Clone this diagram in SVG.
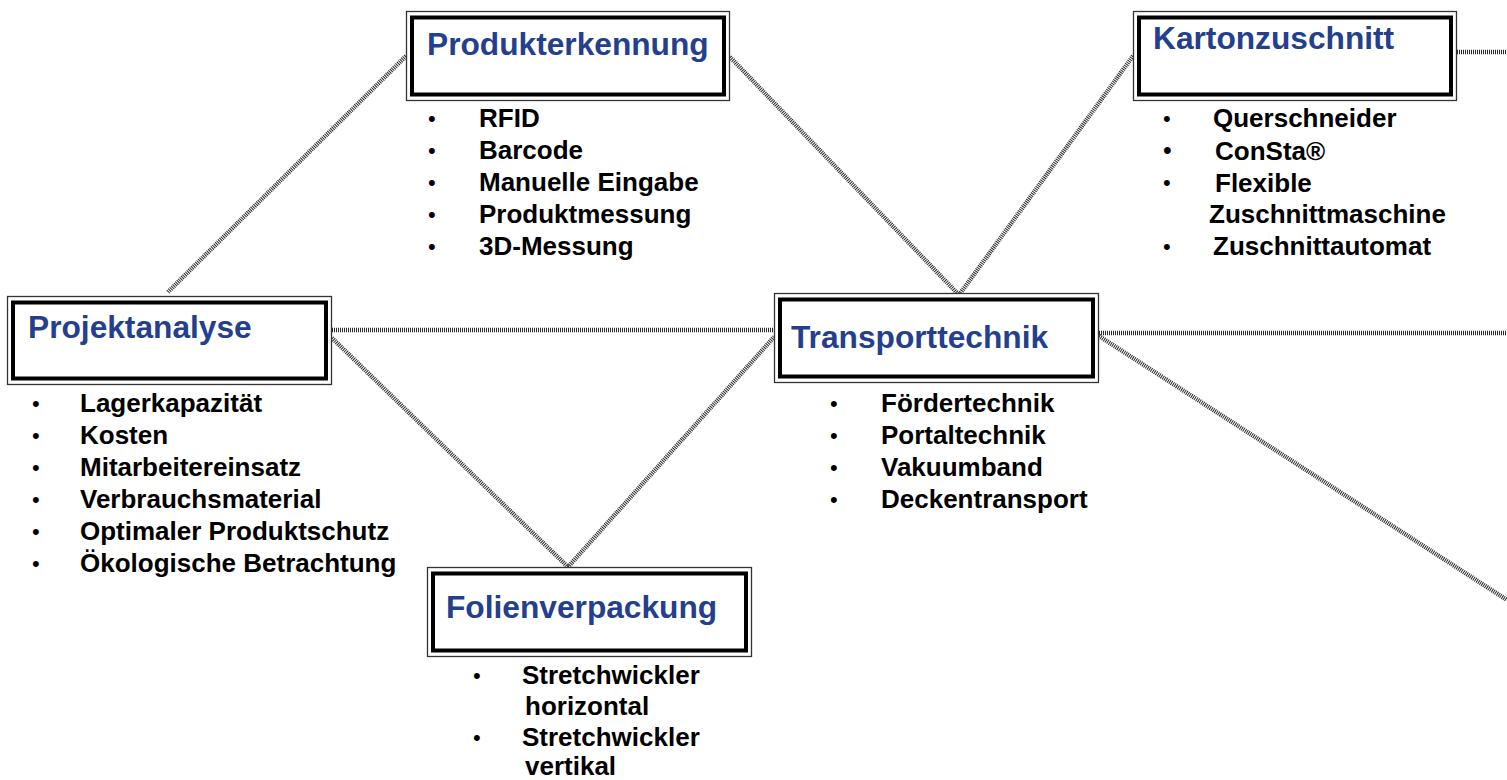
<svg xmlns="http://www.w3.org/2000/svg" width="1507" height="780" viewBox="0 0 1507 780">
<style>
.bg{fill:#ffffff}
.outer{fill:#ffffff;stroke:#333333;stroke-width:1.3}
.inner{fill:none;stroke:#000000;stroke-width:4}
.title{font-family:"Liberation Sans",Arial,sans-serif;font-weight:bold;font-size:31.7px;fill:#243f8e}
.item{font-family:"Liberation Sans",Arial,sans-serif;font-weight:bold;font-size:26px;fill:#000000}
.bul{font-family:"Liberation Sans",Arial,sans-serif;font-size:22px;fill:#000000}
.conn{fill:none;stroke:#262626;stroke-width:4.5;stroke-dasharray:1 1}
</style>
<rect class="bg" x="0" y="0" width="1507" height="780"/>
<g id="connectors">
<line class="conn" x1="168" y1="292" x2="406" y2="56"/>
<line class="conn" x1="730" y1="57" x2="959" y2="295"/>
<line class="conn" x1="1133" y1="56" x2="959" y2="295"/>
<line class="conn" x1="1457" y1="52" x2="1507" y2="52"/>
<line class="conn" x1="332" y1="330" x2="774" y2="330"/>
<line class="conn" x1="332" y1="338" x2="568" y2="567"/>
<line class="conn" x1="568" y1="567" x2="774" y2="337"/>
<line class="conn" x1="1099" y1="333" x2="1507" y2="333"/>
<line class="conn" x1="1099" y1="336" x2="1507" y2="600"/>
</g>
<g id="produkterkennung">
<rect class="outer" x="406.5" y="11.5" width="323" height="89"/>
<rect class="inner" x="412" y="17.5" width="312" height="77"/>
<text class="title" x="427" y="55">Produkterkennung</text>
<text class="bul" x="428" y="126">•</text><text class="item" x="479" y="127">RFID</text>
<text class="bul" x="428" y="158">•</text><text class="item" x="479" y="159">Barcode</text>
<text class="bul" x="428" y="190">•</text><text class="item" x="479" y="191">Manuelle Eingabe</text>
<text class="bul" x="428" y="222">•</text><text class="item" x="479" y="223">Produktmessung</text>
<text class="bul" x="428" y="254">•</text><text class="item" x="479" y="255">3D-Messung</text>
</g>
<g id="kartonzuschnitt">
<rect class="outer" x="1133.5" y="11.5" width="323" height="89"/>
<rect class="inner" x="1139" y="17.5" width="312" height="77"/>
<text class="title" x="1153" y="49">Kartonzuschnitt</text>
<text class="bul" x="1163" y="126">•</text><text class="item" x="1213" y="127">Querschneider</text>
<text class="bul" x="1163" y="159" style="font-size:25px">•</text><text class="item" x="1215" y="160">ConSta®</text>
<text class="bul" x="1163" y="190">•</text><text class="item" x="1215" y="192">Flexible</text>
<text class="item" x="1209" y="223">Zuschnittmaschine</text>
<text class="bul" x="1163" y="254">•</text><text class="item" x="1213" y="255">Zuschnittautomat</text>
</g>
<g id="projektanalyse">
<rect class="outer" x="7.5" y="296.5" width="324" height="88"/>
<rect class="inner" x="13" y="302.5" width="313" height="76"/>
<text class="title" x="28" y="338">Projektanalyse</text>
<text class="bul" x="32" y="411">•</text><text class="item" x="80" y="412">Lagerkapazität</text>
<text class="bul" x="32" y="443">•</text><text class="item" x="80" y="444">Kosten</text>
<text class="bul" x="32" y="475">•</text><text class="item" x="80" y="476">Mitarbeitereinsatz</text>
<text class="bul" x="32" y="507">•</text><text class="item" x="80" y="508">Verbrauchsmaterial</text>
<text class="bul" x="32" y="539">•</text><text class="item" x="80" y="540">Optimaler Produktschutz</text>
<text class="bul" x="32" y="571">•</text><text class="item" x="80" y="572">Ökologische Betrachtung</text>
</g>
<g id="transporttechnik">
<rect class="outer" x="774.5" y="293.5" width="324" height="89"/>
<rect class="inner" x="780" y="299.5" width="313" height="77"/>
<text class="title" x="791" y="348">Transporttechnik</text>
<text class="bul" x="830" y="411">•</text><text class="item" x="881" y="412">Fördertechnik</text>
<text class="bul" x="830" y="443">•</text><text class="item" x="881" y="444">Portaltechnik</text>
<text class="bul" x="830" y="475">•</text><text class="item" x="881" y="476">Vakuumband</text>
<text class="bul" x="830" y="507">•</text><text class="item" x="881" y="508">Deckentransport</text>
</g>
<g id="folienverpackung">
<rect class="outer" x="427.5" y="567.5" width="324" height="89"/>
<rect class="inner" x="433" y="573.5" width="313" height="77"/>
<text class="title" x="446" y="618">Folienverpackung</text>
<text class="bul" x="473" y="683">•</text><text class="item" x="522" y="684">Stretchwickler</text>
<text class="item" x="525" y="715">horizontal</text>
<text class="bul" x="473" y="745">•</text><text class="item" x="522" y="746">Stretchwickler</text>
<text class="item" x="525" y="775">vertikal</text>
</g>
</svg>
